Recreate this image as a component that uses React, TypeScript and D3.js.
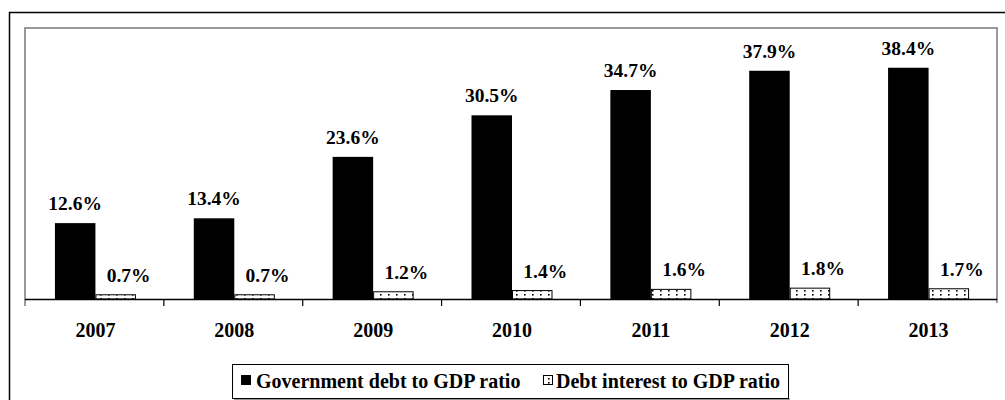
import React from "react";
import * as d3 from "d3";

const years = ["2007", "2008", "2009", "2010", "2011", "2012", "2013"];
const debtRatio = [12.6, 13.4, 23.6, 30.5, 34.7, 37.9, 38.4];
const interestRatio = [0.7, 0.7, 1.2, 1.4, 1.6, 1.8, 1.7];
const seriesNames = ["Government debt to GDP ratio", "Debt interest to GDP ratio"];

const W = 1005;
const H = 400;
const left = 25;
const right = 997;
const top = 28;
const bottom = 299;
const FONT = "Liberation Serif";

export default function App() {
  const pi = 1 - 81 / ((right - left) / years.length);
  const x0 = d3.scaleBand<string>().domain(years).range([left, right]).paddingInner(pi).paddingOuter(pi / 2);
  const x1 = d3.scaleBand<string>().domain(["debt", "int"]).range([0, x0.bandwidth()]);
  const y = d3.scaleLinear().domain([0, 45]).range([bottom, top]);
  const ticks = d3.range(years.length + 1).map((i) => left + i * x0.step());
  const ts: React.CSSProperties = { fontFamily: FONT, fontWeight: "bold" };

  return (
    <svg width={W} height={H} style={{ position: "absolute", left: 0, top: 0 }}>
      <defs>
        <pattern id="dots" width="8" height="4" patternUnits="userSpaceOnUse" x="1" y="1">
          <rect width="8" height="4" fill="#fff" />
          <rect x="3" y="1" width="1.6" height="1.6" fill="#000" />
        </pattern>
      </defs>
      <rect x={0} y={0} width={W} height={H} fill="#fff" />
      <rect x={9.5} y={12.5} width={1000} height={400} fill="none" stroke="#000" strokeWidth={1.5} />
      <path d={`M${left},${bottom + 7}V${top}H${right}V${bottom + 4}`} fill="none" stroke="#999" strokeWidth={2} />
      {years.map((yr, i) => {
        const gx = (x0(yr) as number) + 1;
        const bx = gx + (x1("debt") as number);
        const ix = gx + (x1("int") as number);
        const bw = x1.bandwidth();
        return (
          <g key={yr}>
            <rect x={bx} y={y(debtRatio[i])} width={bw} height={bottom - y(debtRatio[i])} fill="#000" />
            <rect x={ix + 0.5} y={y(interestRatio[i])} width={bw - 1} height={bottom - y(interestRatio[i])} fill="url(#dots)" stroke="#000" strokeWidth={1} />
            <text x={bx + bw / 2} y={y(debtRatio[i]) - 13} textAnchor="middle" style={ts} fontSize={19.5}>
              {debtRatio[i].toFixed(1)}%
            </text>
            <text x={ix + bw / 2 + 13} y={y(interestRatio[i]) - 13} textAnchor="middle" style={ts} fontSize={19.5}>
              {interestRatio[i].toFixed(1)}%
            </text>
            <text x={gx + x0.bandwidth() / 2} y={337} textAnchor="middle" style={ts} fontSize={20}>
              {yr}
            </text>
          </g>
        );
      })}
      <line x1={left} x2={right} y1={bottom + 0.5} y2={bottom + 0.5} stroke="#000" strokeWidth={1.5} />
      {ticks.slice(1, -1).map((t, i) => (
        <line key={i} x1={t} x2={t} y1={bottom} y2={bottom + 7} stroke="#000" strokeWidth={1.2} />
      ))}
      <line x1={234} x2={790} y1={399.3} y2={399.3} stroke="#999" strokeWidth={1.5} />
      <rect x={232.5} y={364.5} width={556} height={34} fill="#fff" stroke="#000" strokeWidth={1} />
      <rect x={241} y={375} width={10} height={10} fill="#000" />
      <text x={256} y={388} style={ts} fontSize={20}>{seriesNames[0]}</text>
      <rect x={543.5} y={375.5} width={9} height={9} fill="url(#dots)" stroke="#000" strokeWidth={1} />
      <text x={556} y={388} style={ts} fontSize={20}>{seriesNames[1]}</text>
    </svg>
  );
}
